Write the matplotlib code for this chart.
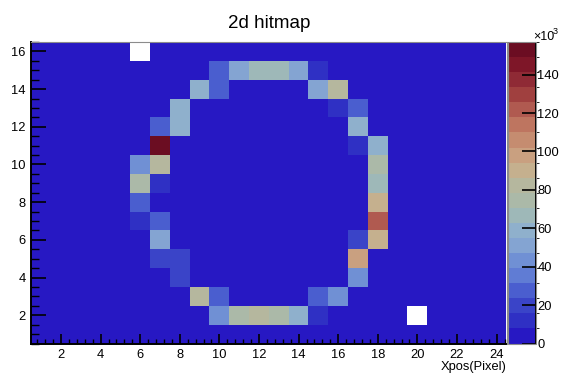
import numpy as np
import matplotlib
matplotlib.use("Agg")
import matplotlib.pyplot as plt
from matplotlib.colors import ListedColormap, BoundaryNorm

plt.rcParams["font.family"] = ["Liberation Sans", "DejaVu Sans"]

# Detector geometry (pixels)
n_x_pixels = 24
n_y_pixels = 16

# Baseline hit count for quiet pixels
background_counts = 1000.0

# Pixels on the illuminated ring: column, row, hits
ring_x = [10, 11, 12, 13, 14, 15,
          9, 10, 15, 16,
          8, 16, 17,
          7, 8, 17,
          7, 17, 18,
          6, 7, 18,
          6, 7, 18,
          6, 18,
          6, 7, 18,
          7, 17, 18,
          7, 8, 17,
          8, 17,
          9, 10, 15, 16,
          10, 11, 12, 13, 14, 15]
ring_y = [15, 15, 15, 15, 15, 15,
          14, 14, 14, 14,
          13, 13, 13,
          12, 12, 12,
          11, 11, 11,
          10, 10, 10,
          9, 9, 9,
          8, 8,
          7, 7, 7,
          6, 6, 6,
          5, 5, 5,
          4, 4,
          3, 3, 3, 3,
          2, 2, 2, 2, 2, 2]
ring_counts = [27000, 50000, 67000, 67000, 50000, 12000,
               62000, 27000, 50000, 80000,
               58000, 12000, 25000,
               27000, 58000, 62000,
               157000, 12000, 56000,
               43000, 84000, 76000,
               78000, 12000, 68000,
               27000, 90000,
               12000, 27000, 122000,
               50000, 20000, 90000,
               20000, 20000, 98000,
               20000, 43000,
               84000, 27000, 27000, 43000,
               43000, 76000, 84000, 76000, 62000, 12000]

# Dead pixels (no hits recorded)
dead_x = [6, 20]
dead_y = [16, 2]

# Palette (20 contour levels, low -> high)
palette = ["#2718C3", "#2F30C4", "#3A44C8", "#4A5ECF", "#607CD4",
           "#7090D4", "#84A4D2", "#8FB0CC", "#9EB8B8", "#ABB9A8",
           "#B5B79E", "#C5B08E", "#C9A080", "#C58C70", "#BE7560",
           "#B05A50", "#A0403F", "#8F2A35", "#7E1628", "#6B0D22"]

cbar_ticks = [0, 20000, 40000, 60000, 80000, 100000, 120000, 140000]

# Build the hit map
hits = np.full((n_y_pixels, n_x_pixels), background_counts)
for x, y, c in zip(ring_x, ring_y, ring_counts):
    hits[y - 1, x - 1] = c
for x, y in zip(dead_x, dead_y):
    hits[y - 1, x - 1] = np.nan
hits = np.ma.masked_invalid(hits)

x_edges = np.arange(0.5, n_x_pixels + 1.0, 1.0)
y_edges = np.arange(0.5, n_y_pixels + 1.0, 1.0)

cmap = ListedColormap(palette)
cmap.set_over(palette[-1])
levels = np.linspace(0, max(ring_counts), len(palette) + 1)
norm = BoundaryNorm(levels, cmap.N)

W, H = 562, 375
fig = plt.figure(figsize=(W / 100, H / 100), dpi=100)
x0, x1 = 31.3, 506.5
y_top, y_bot = 42.0, 343.5
ax = fig.add_axes([x0 / W, (H - y_bot) / H, (x1 - x0) / W, (y_bot - y_top) / H])
cax = fig.add_axes([507.5 / W, (H - y_bot) / H, 28.5 / W, (y_bot - y_top) / H])

mesh = ax.pcolormesh(x_edges, y_edges, hits, cmap=cmap, norm=norm,
                     edgecolors="none", antialiased=False)
ax.set_xlim(0.5, n_x_pixels + 0.5)
ax.set_ylim(0.5, n_y_pixels + 0.5)

ax.xaxis.set_major_locator(matplotlib.ticker.MultipleLocator(2))
ax.xaxis.set_minor_locator(matplotlib.ticker.MultipleLocator(0.4))
ax.yaxis.set_major_locator(matplotlib.ticker.MultipleLocator(2))
ax.yaxis.set_minor_locator(matplotlib.ticker.MultipleLocator(0.5))
ax.tick_params(axis="x", which="major", direction="in", length=7.0, width=1.2,
               labelsize=9.3, pad=4, color="black")
ax.tick_params(axis="x", which="minor", direction="in", length=3.5, width=1.0)
ax.tick_params(axis="y", which="major", direction="in", length=10.5, width=1.2,
               labelsize=9.3, pad=4, color="black")
ax.tick_params(axis="y", which="minor", direction="in", length=5.5, width=1.0)

for side in ("left", "bottom"):
    ax.spines[side].set_color("black")
    ax.spines[side].set_linewidth(1.4)
for side in ("top", "right"):
    ax.spines[side].set_color("#8c8c8c")
    ax.spines[side].set_linewidth(0.8)

ax.set_title("2d hitmap", fontsize=13.5, pad=10)
ax.set_xlabel("Xpos(Pixel)", fontsize=9.3, loc="right", labelpad=0)

cbar = fig.colorbar(mesh, cax=cax, ticks=cbar_ticks)
cbar.ax.set_yticklabels([f"{t // 1000}" for t in cbar_ticks])
cbar.ax.tick_params(direction="in", length=10, width=1.2, labelsize=9.3, pad=1,
                    right=True, left=False, color="black")
cbar.outline.set_edgecolor("#8c8c8c")
cbar.outline.set_linewidth(0.8)
cax.axvline(1.0, color="black", lw=1.4)

fig.text(533 / W, 1 - 40 / H, "×10", fontsize=9, ha="left", va="baseline")
fig.text(553 / W, 1 - 34.5 / H, "3", fontsize=6.5, ha="left", va="baseline")

fig.savefig("out.png", dpi=100)
